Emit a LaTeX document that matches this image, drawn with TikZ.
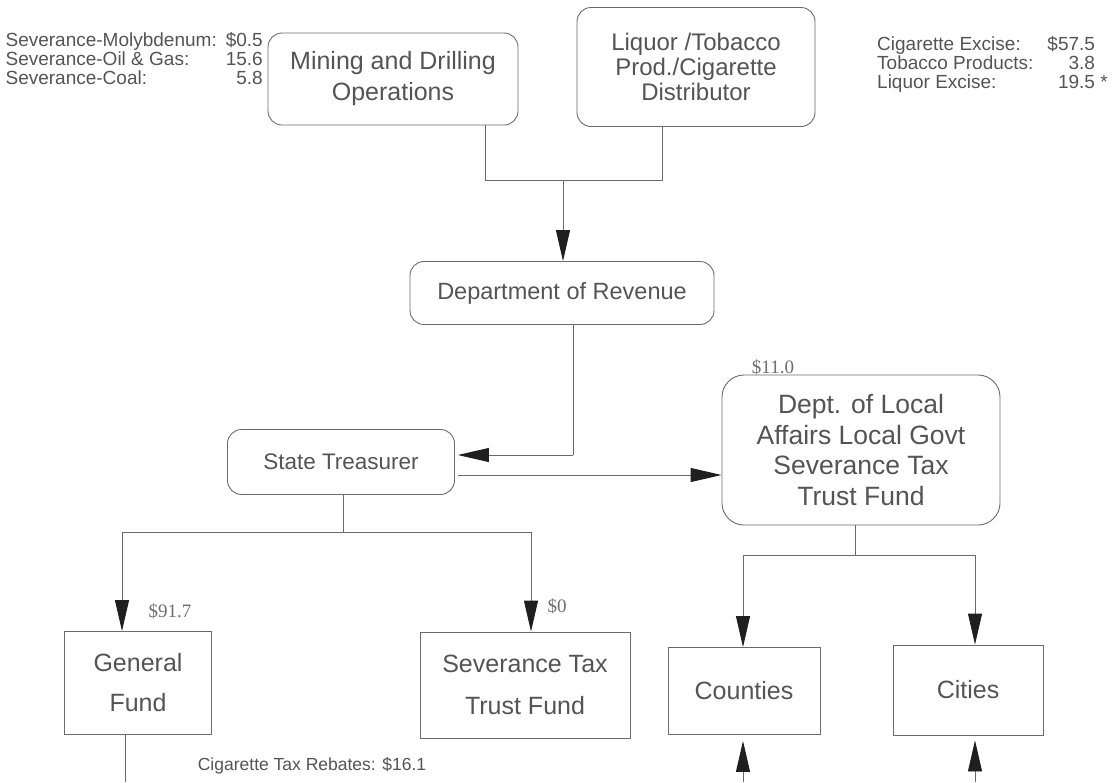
\documentclass[tikz,border=0pt]{standalone}
\usepackage{fontspec}
\setmainfont{Liberation Sans}
\newfontfamily\numfont{Liberation Serif}
\usetikzlibrary{arrows.meta}
\definecolor{ink}{gray}{0.33}
\definecolor{linec}{gray}{0.42}
\definecolor{tipc}{gray}{0.12}
\tikzset{
  box/.style={draw=linec, line width=0.9pt, text=ink, align=center, inner sep=0pt},
  rbox/.style={box, rounded corners=14pt},
  conn/.style={draw=linec, line width=0.9pt},
  arr/.style={conn, -{Triangle[length=31pt,width=14pt,fill=tipc,color=tipc]}},
  lst/.style={text=ink, inner sep=0pt, font=\fontsize{19}{17.5}\selectfont},
  amt/.style={text=ink!85, inner sep=0pt, font=\numfont\fontsize{19}{19}\selectfont},
}
\begin{document}
\begin{tikzpicture}[x=1pt,y=-1pt]
\useasboundingbox (0,0) rectangle (1114,782);

% source lists
\node[lst, anchor=north east] (leftlist) at (263,32) {%
  \begin{tabular}{@{}l@{\hspace{9pt}}r@{}}
  Severance-Molybdenum: & \$0.5\\
  Severance-Oil \& Gas: & 15.6\\
  Severance-Coal: & 5.8
  \end{tabular}};
\node[lst, anchor=north west] (rightlist) at (877,36) {%
  \begin{tabular}{@{}l@{\hspace{14pt}}r@{}}
  Cigarette Excise: & \$57.5\\
  Tobacco Products: & 3.8\\
  Liquor Excise: & 19.5\rlap{ *}
  \end{tabular}};

% boxes
\node[rbox, font=\fontsize{25}{31}\selectfont, minimum width=250pt, minimum height=92pt] (mining) at (393,79)
  {Mining and Drilling\\Operations};
\node[rbox, font=\fontsize{24}{25}\selectfont, minimum width=238pt, minimum height=119pt] (liquor) at (696,67)
  {Liquor /Tobacco\\Prod./Cigarette\\Distributor\hspace*{0pt}};
\node[rbox, font=\fontsize{23.5}{26}\selectfont, minimum width=304pt, minimum height=63pt] (rev) at (562,293)
  {Department of Revenue};
\node[rbox, font=\fontsize{22.5}{26}\selectfont, minimum width=227pt, minimum height=65pt] (treas) at (341,462)
  {State Treasurer};
\node[rbox, font=\fontsize{26.5}{30.5}\selectfont, minimum width=278pt, minimum height=150pt, rounded corners=22pt] (local) at (861,450)
  {Dept. of Local\\Affairs Local Govt\\Severance Tax\\Trust Fund};
\node[box, font=\fontsize{25}{40}\selectfont, minimum width=147pt, minimum height=103pt] (gen) at (138,683)
  {General\\Fund};
\node[box, font=\fontsize{25}{42}\selectfont, minimum width=210pt, minimum height=106pt] (sev) at (525,685)
  {Severance Tax\\Trust Fund};
\node[box, font=\fontsize{25}{26}\selectfont, minimum width=152pt, minimum height=87pt] (counties) at (744,691) {Counties};
\node[box, font=\fontsize{25}{26}\selectfont, minimum width=150pt, minimum height=90pt] (cities) at (968,690) {Cities};

% amounts
\node[amt] (a11) at (773,367) {\$11.0};
\node[amt] (a917) at (170,611) {\$91.7};
\node[amt] (a0) at (557,606) {\$0};
\node[lst, font=\fontsize{17.5}{17}\selectfont] (rebates) at (312,766) {Cigarette Tax Rebates: \$16.1};

% connectors
\coordinate (mj) at (485,180);
\coordinate (lj) at (662,180);
\coordinate (rj) at (563,180);
\draw[conn] (mining.south -| mj) -- (mj) -- (lj) -- (liquor.south -| lj);
\draw[arr] (rj) -- (rev.north -| rj);

\coordinate (rt) at (573,455);
\draw[conn] (rev.south -| rt) -- (rt);
\draw[arr, shorten >=3pt] (rt) -- (treas.east |- rt);

\coordinate (ta) at (458,475);
\draw[arr] (ta) -- (local.west |- ta);

\coordinate (tb) at (343,532);
\coordinate (gj) at (122,532);
\coordinate (sj) at (531,532);
\draw[conn] (treas.south -| tb) -- (tb);
\draw[arr] (tb) -| (gen.north -| gj);
\draw[arr] (tb) -| (sev.north -| sj);

\coordinate (lb) at (855,555);
\coordinate (cj) at (743,555);
\coordinate (tj) at (975,555);
\draw[conn] (local.south -| lb) -- (lb);
\draw[arr] (lb) -| (counties.north -| cj);
\draw[arr] (lb) -| (cities.north -| tj);

\coordinate (gb) at (125,782);
\draw[conn] (gen.south -| gb) -- (gb);
\coordinate (cb) at (743,782);
\coordinate (tbb) at (975,782);
\draw[arr, shorten >=6pt] (cb) -- (counties.south -| cb);
\draw[arr, shorten >=5pt] (tbb) -- (cities.south -| tbb);
\end{tikzpicture}
\end{document}
